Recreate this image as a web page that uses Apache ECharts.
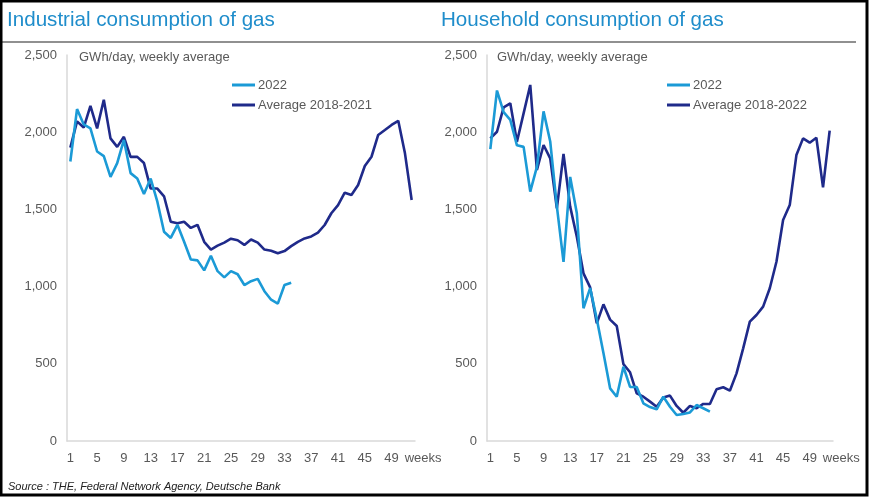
<!DOCTYPE html>
<html>
<head>
<meta charset="utf-8">
<script src="https://cdn.jsdelivr.net/npm/echarts@6/dist/echarts.min.js"></script>
<style>html,body{margin:0;padding:0;background:#fff}#c{width:869px;height:497px}</style>
</head>
<body>
<div id="c"></div>
<script>
// Categories: weeks 1..52
const weeks = ["1","2","3","4","5","6","7","8","9","10","11","12","13","14","15","16","17","18","19","20","21","22","23","24","25","26","27","28","29","30","31","32","33","34","35","36","37","38","39","40","41","42","43","44","45","46","47","48","49","50","51","52"];
const yTicks = [0, 500, 1000, 1500, 2000, 2500];

// Industrial consumption (GWh/day, weekly average)
const industrial2022 = [1810,2150,2050,2025,1875,1845,1710,1800,1950,1735,1700,1600,1700,1550,1355,1315,1400,1290,1175,1170,1105,1200,1100,1060,1100,1080,1010,1035,1050,970,915,890,1010,1025];
const industrialAvg = [1900,2070,2030,2170,2025,2210,1960,1905,1970,1840,1840,1800,1635,1635,1585,1420,1410,1420,1380,1400,1290,1240,1265,1285,1310,1300,1270,1305,1285,1240,1232,1216,1230,1262,1290,1312,1325,1349,1399,1475,1528,1608,1593,1658,1781,1841,1982,2014,2047,2074,1863,1561];

// Household consumption (GWh/day, weekly average)
const household2022 = [1890,2270,2130,2080,1915,1905,1615,1775,2135,1940,1520,1160,1710,1475,860,990,790,570,341,287,481,350,350,244,220,205,287,222,168,175,185,233,212,190];
const householdAvg = [1960,2003,2161,2187,1938,2122,2306,1755,1917,1831,1507,1859,1518,1323,1086,995,762,885,786,745,498,445,309,287,255,222,281,294,227,183,227,212,240,240,335,348,326,438,600,773,816,870,989,1161,1431,1528,1852,1960,1932,1964,1643,2010];

const titles = ["Industrial consumption of gas", "Household consumption of gas"];
const units = "GWh/day, weekly average";
const seriesNames = [["2022", "Average 2018-2021"], ["2022", "Average 2018-2022"]];
const source = "Source : THE, Federal Network Agency, Deutsche Bank";

const LIGHT = '#1b9ad6';
const DARK = '#1f2a8a';
const TXT = '#595959';
const FONT = 'Liberation Sans';

const chart = echarts.init(document.getElementById('c'), null, {renderer: 'canvas'});

function xAxis(i) {
  return {
    type: 'category', gridIndex: i, data: weeks, boundaryGap: true,
    axisLine: {show: true, lineStyle: {color: '#d9d9d9', width: 1.5}},
    axisTick: {show: false},
    axisLabel: {interval: 3, color: TXT, fontSize: 13, fontFamily: FONT, margin: 11},
    name: 'weeks', nameLocation: 'end', nameGap: -11,
    nameTextStyle: {color: TXT, fontSize: 13, fontFamily: FONT, align: 'left', verticalAlign: 'top', padding: [11, 0, 0, 0]}
  };
}
function yAxis(i) {
  return {
    type: 'value', gridIndex: i, min: yTicks[0], max: yTicks[yTicks.length - 1], interval: 500,
    axisLine: {show: true, lineStyle: {color: '#d9d9d9', width: 1.5}},
    axisTick: {show: false},
    splitLine: {show: false},
    axisLabel: {color: TXT, fontSize: 13, fontFamily: FONT, margin: 10,
      formatter: v => v.toLocaleString('en-US')}
  };
}
function line(name, data, color, i, z) {
  return {type: 'line', name: name, xAxisIndex: i, yAxisIndex: i, data: data,
    symbol: 'none', smooth: false, z: z,
    lineStyle: {color: color, width: 2.6}, itemStyle: {color: color}};
}
function legend(i, left) {
  return {
    orient: 'vertical', left: left, top: 72, itemWidth: 23, itemHeight: 3, itemGap: 4,
    icon: 'rect', data: seriesNames[i],
    textStyle: {color: TXT, fontSize: 13, fontFamily: FONT, lineHeight: 16, padding: [0, 0, 0, -2]},
    selectedMode: false
  };
}

chart.setOption({
  animation: false,
  textStyle: {fontFamily: FONT},
  title: [
    {text: titles[0], left: 2, top: 5, textStyle: {color: '#1f8dcb', fontSize: 20.6, fontWeight: 'normal', fontFamily: FONT}},
    {text: titles[1], left: 436, top: 5, textStyle: {color: '#1f8dcb', fontSize: 20.6, fontWeight: 'normal', fontFamily: FONT}},
    {text: units, left: 74, top: 46, textStyle: {color: TXT, fontSize: 13, fontWeight: 'normal', fontFamily: FONT}},
    {text: units, left: 492, top: 46, textStyle: {color: TXT, fontSize: 13, fontWeight: 'normal', fontFamily: FONT}},
    {text: source, left: 3, top: 476, textStyle: {color: '#222', fontSize: 11, fontStyle: 'italic', fontWeight: 'normal', fontFamily: FONT}}
  ],
  legend: [legend(0, 227), legend(1, 662)],
  grid: [
    {left: 67, right: 454, top: 55, bottom: 56, containLabel: false},
    {left: 487, right: 36, top: 55, bottom: 56, containLabel: false}
  ],
  xAxis: [xAxis(0), xAxis(1)],
  yAxis: [yAxis(0), yAxis(1)],
  series: [
    line(seriesNames[0][0], industrial2022, LIGHT, 0, 3),
    line(seriesNames[0][1], industrialAvg, DARK, 0, 2),
    line(seriesNames[1][0], household2022, LIGHT, 1, 3),
    line(seriesNames[1][1], householdAvg, DARK, 1, 2)
  ],
  graphic: [
    {type: 'line', shape: {x1: 0, y1: 42, x2: 856, y2: 42}, style: {stroke: '#6b6b6b', lineWidth: 1.5}, silent: true},
    {type: 'rect', shape: {x: 1, y: 1, width: 866, height: 494}, style: {fill: null, stroke: '#000', lineWidth: 3}, silent: true}
  ]
});
</script>
</body>
</html>
